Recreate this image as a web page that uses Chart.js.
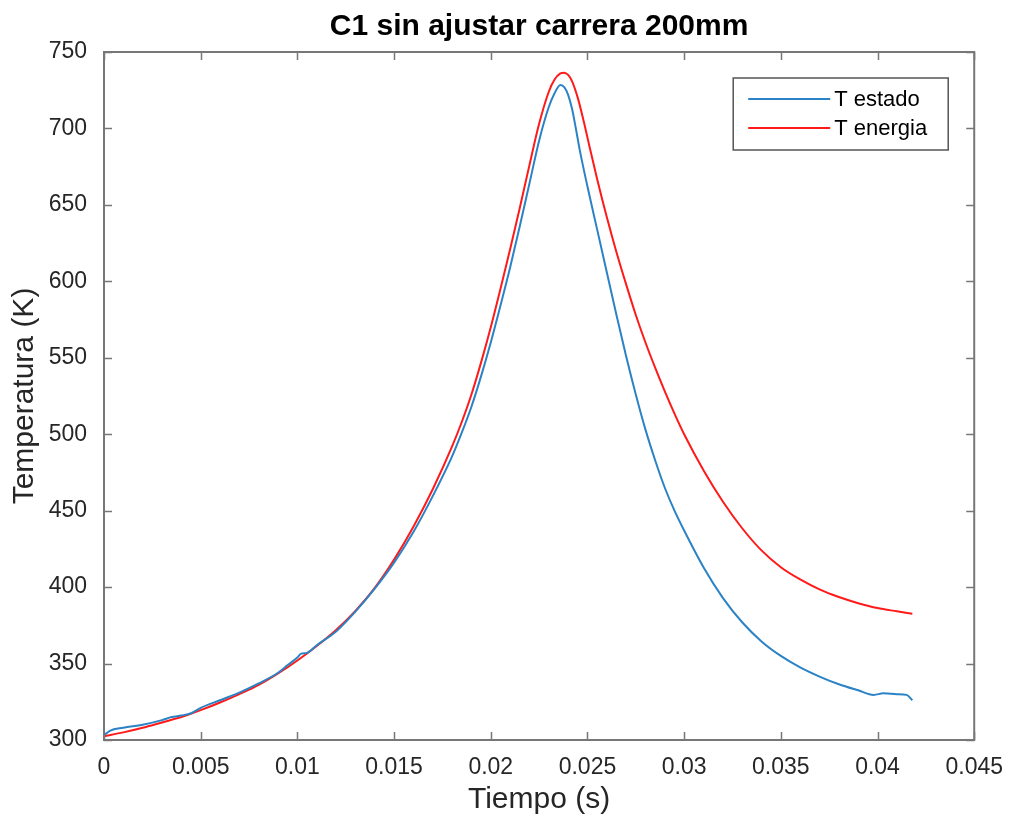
<!DOCTYPE html>
<html>
<head>
<meta charset="utf-8">
<script src="https://cdn.jsdelivr.net/npm/chart.js"></script>
<style>
  html, body { margin: 0; padding: 0; background: #fff; }
  #wrap { width: 1009px; height: 819px; position: relative; }
</style>
</head>
<body>
<div id="wrap"><canvas id="tempChart"></canvas></div>
<script>
// T estado (blue)
const tEstado = [0, 0.0003, 0.001, 0.002, 0.003, 0.0035, 0.004, 0.0045, 0.005, 0.006, 0.007, 0.008, 0.009, 0.0095,
  0.010, 0.0102, 0.0105, 0.011, 0.012, 0.013, 0.014, 0.015, 0.016, 0.017, 0.018, 0.0185, 0.019, 0.0195, 0.020,
  0.0205, 0.021, 0.0215, 0.022, 0.0225, 0.023, 0.0233, 0.0236, 0.0238, 0.024, 0.0242, 0.0244, 0.0246, 0.025,
  0.0255, 0.026, 0.0265, 0.027, 0.0275, 0.028, 0.0285, 0.029, 0.0295, 0.030, 0.031, 0.032, 0.033, 0.034,
  0.035, 0.036, 0.037, 0.038, 0.039, 0.0398, 0.0403, 0.041, 0.0415, 0.0418];
const TEstado = [303, 306, 308, 310, 313, 315, 316, 317.5, 321, 326, 331, 337, 344, 349,
  354, 356.5, 357, 362, 371, 384, 399, 416, 436, 459.5, 485.5, 501, 518, 538, 560,
  584, 609, 636, 664, 692, 714, 723, 728.4, 727, 722, 713, 700, 686, 662,
  634, 606, 578, 551, 526, 503, 483, 465, 450, 437, 413, 393, 377, 364.5,
  355, 347.5, 341.5, 336.5, 332.5, 329.5, 330.5, 330, 329.5, 326];

// T energia (red)
const tEnergia = [0, 0.001, 0.002, 0.003, 0.004, 0.005, 0.006, 0.007, 0.008, 0.009, 0.010, 0.011, 0.012, 0.013,
  0.014, 0.015, 0.016, 0.017, 0.018, 0.0185, 0.019, 0.0195, 0.020, 0.0205, 0.021, 0.0215, 0.022, 0.0225, 0.023,
  0.0233, 0.0236, 0.0238, 0.0240, 0.0242, 0.0245, 0.0248, 0.025, 0.0255, 0.026, 0.0265, 0.027, 0.0275, 0.028,
  0.0285, 0.029, 0.0295, 0.030, 0.031, 0.032, 0.033, 0.034, 0.035, 0.036, 0.037, 0.038, 0.039, 0.040, 0.041, 0.0418];
const TEnergia = [302.5, 305, 308, 311.5, 315, 319.5, 324.5, 330, 336, 343.5, 352, 361.5, 372, 384.5,
  399.5, 418, 439.5, 464, 492, 508, 526, 547, 570, 595, 621, 648, 676, 703, 724,
  732, 736, 736.5, 735, 731, 720, 705, 694, 667, 642, 619, 598, 578, 560,
  543.5, 528, 513.5, 500, 476.5, 456, 438.5, 424, 413, 405, 398.5, 393.5, 389.5, 386.3, 384.2, 382.6];

const seriesNames = ['T estado', 'T energia'];
const xRange = [0, 0.045];
const xStep = 0.005;
const yRange = [300, 750];
const yStep = 50;

const FONT = '"Liberation Sans", Arial, Helvetica, sans-serif';
const AXIS_COL = '#777777';
const TEXT_COL = '#262626';

function toPoints(xs, ys) {
  return xs.map((v, i) => ({ x: v, y: ys[i] }));
}

// matlab style box: frame, inward ticks on all sides, legend
const boxPlugin = {
  id: 'matlabBox',
  afterDraw(chart) {
    const { ctx, chartArea: a, scales: { x, y } } = chart;
    ctx.save();
    ctx.strokeStyle = AXIS_COL;
    ctx.lineWidth = 2;
    ctx.strokeRect(a.left, a.top, a.right - a.left, a.bottom - a.top);

    const len = 8;
    ctx.lineWidth = 1.5;
    ctx.beginPath();
    x.ticks.forEach(t => {
      const px = Math.round(x.getPixelForValue(t.value)) + 0.5;
      ctx.moveTo(px, a.bottom); ctx.lineTo(px, a.bottom - len);
      ctx.moveTo(px, a.top); ctx.lineTo(px, a.top + len);
    });
    y.ticks.forEach(t => {
      const py = Math.round(y.getPixelForValue(t.value)) + 0.5;
      ctx.moveTo(a.left, py); ctx.lineTo(a.left + len, py);
      ctx.moveTo(a.right, py); ctx.lineTo(a.right - len, py);
    });
    ctx.stroke();

    // legend
    const bx = a.right - 241, by = a.top + 26, bw = 215, bh = 72;
    ctx.fillStyle = '#fff';
    ctx.fillRect(bx, by, bw, bh);
    ctx.strokeStyle = '#555';
    ctx.lineWidth = 1.5;
    ctx.strokeRect(bx, by, bw, bh);
    ctx.font = '22px ' + FONT;
    ctx.textBaseline = 'middle';
    chart.data.datasets.forEach((ds, i) => {
      const ly = by + 21 + i * 29;
      ctx.strokeStyle = ds.borderColor;
      ctx.lineWidth = 2;
      ctx.beginPath();
      ctx.moveTo(bx + 15, ly); ctx.lineTo(bx + 97, ly);
      ctx.stroke();
      ctx.fillStyle = '#000';
      ctx.fillText(ds.label, bx + 101, ly + 1);
    });
    ctx.restore();
  }
};

const config = {
  type: 'line',
  data: {
    datasets: [
      {
        label: seriesNames[0],
        data: toPoints(tEstado, TEstado),
        borderColor: '#2b83c6',
        borderWidth: 2,
        pointRadius: 0,
        cubicInterpolationMode: 'monotone'
      },
      {
        label: seriesNames[1],
        data: toPoints(tEnergia, TEnergia),
        borderColor: '#ff1a1a',
        borderWidth: 2,
        pointRadius: 0,
        cubicInterpolationMode: 'monotone'
      }
    ]
  },
  options: {
    responsive: true,
    maintainAspectRatio: false,
    animation: false,
    layout: { padding: { left: 0, right: 31, top: 0, bottom: 0 } },
    plugins: {
      legend: { display: false },
      tooltip: { enabled: false },
      title: {
        display: true,
        fullSize: false,
        text: 'C1 sin ajustar carrera 200mm',
        color: '#000',
        font: { family: FONT, size: 30, weight: 'bold', lineHeight: 1.2 },
        padding: { top: 9, bottom: 7 }
      }
    },
    scales: {
      x: {
        type: 'linear',
        min: xRange[0],
        max: xRange[1],
        afterFit: s => { s.height = 79; },
        grid: { display: false },
        border: { display: false },
        ticks: {
          stepSize: xStep,
          autoSkip: false,
          maxRotation: 0,
          padding: 6,
          color: TEXT_COL,
          font: { family: FONT, size: 23 },
          callback: v => String(+v.toFixed(3))
        },
        title: {
          display: true,
          text: 'Tiempo (s)',
          color: TEXT_COL,
          font: { family: FONT, size: 30 },
          padding: { top: 0, bottom: 1 }
        }
      },
      y: {
        min: yRange[0],
        max: yRange[1],
        afterFit: s => { s.width = 104; },
        grid: { display: false },
        border: { display: false },
        ticks: {
          stepSize: yStep,
          padding: 9,
          color: TEXT_COL,
          font: { family: FONT, size: 23 }
        },
        title: {
          display: true,
          text: 'Temperatura (K)',
          color: TEXT_COL,
          font: { family: FONT, size: 30 },
          padding: { top: 7, bottom: 0 }
        }
      }
    }
  },
  plugins: [boxPlugin]
};

const tempChart = new Chart(document.getElementById('tempChart').getContext('2d'), config);
</script>
</body>
</html>
